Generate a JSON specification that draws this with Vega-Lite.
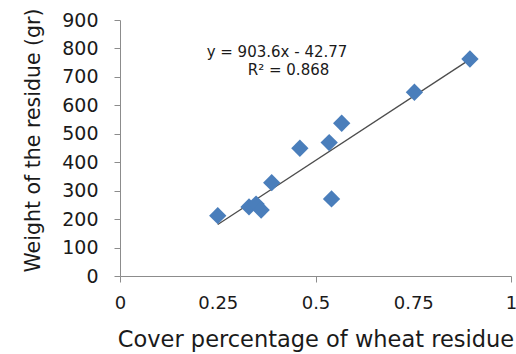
{
  "$schema": "https://vega.github.io/schema/vega-lite/v6.json",
  "width": 391,
  "height": 256,
  "autosize": "none",
  "padding": {"left": 120, "top": 20, "right": 5, "bottom": 78},
  "background": "white",
  "config": {"view": {"stroke": null}, "font": "DejaVu Sans"},
  "datasets": {
    "pts": [
      {"cover": 0.250, "weight": 212},
      {"cover": 0.330, "weight": 243},
      {"cover": 0.348, "weight": 253},
      {"cover": 0.361, "weight": 232},
      {"cover": 0.388, "weight": 328},
      {"cover": 0.460, "weight": 449},
      {"cover": 0.535, "weight": 469},
      {"cover": 0.567, "weight": 537},
      {"cover": 0.541, "weight": 271},
      {"cover": 0.753, "weight": 646},
      {"cover": 0.895, "weight": 763}
    ],
    "notes": [
      {"cover": 0.4015, "weight": 788, "label": "y = 903.6x - 42.77"},
      {"cover": 0.431, "weight": 725, "label": "R² = 0.868"}
    ]
  },
  "resolve": {"axis": {"x": "independent", "y": "independent"}},
  "layer": [
    {
      "data": {"name": "pts"},
      "transform": [{"regression": "weight", "on": "cover"}],
      "mark": {"type": "line", "color": "#4d4d4d", "strokeWidth": 1.3},
      "encoding": {
        "x": {"field": "cover", "type": "quantitative", "scale": {"domain": [0, 1], "nice": false},
          "axis": {"orient": "bottom", "values": [0, 0.5, 1], "labels": false, "domain": false, "ticks": true, "tickSize": 6, "tickColor": "#8c8c8c", "grid": false, "title": null}},
        "y": {"field": "weight", "type": "quantitative", "scale": {"domain": [0, 900], "nice": false}, "axis": null}
      }
    },
    {
      "data": {"name": "pts"},
      "mark": {"type": "point", "shape": "diamond", "filled": true, "size": 300, "color": "#4a7ebb", "opacity": 1},
      "encoding": {
        "x": {"field": "cover", "type": "quantitative", "scale": {"domain": [0, 1], "nice": false},
          "axis": {"orient": "bottom", "values": [0, 0.25, 0.5, 0.75, 1], "format": ".2~f", "ticks": false, "tickSize": 0, "grid": false, "domainColor": "#8c8c8c",
            "labelFont": "DejaVu Sans", "labelFontSize": 18, "labelColor": "#1a1a1a", "labelPadding": 18.5, "labelFlush": false, "labelOverlap": false,
            "title": "Cover percentage of wheat residue", "titleFont": "DejaVu Sans", "titleFontSize": 22.5, "titleFontWeight": "normal", "titleColor": "#1a1a1a", "titlePadding": 16}},
        "y": {"field": "weight", "type": "quantitative", "scale": {"domain": [0, 900], "nice": false},
          "axis": {"orient": "left", "values": [0, 100, 200, 300, 400, 500, 600, 700, 800, 900], "grid": false, "domainColor": "#8c8c8c", "tickColor": "#8c8c8c", "tickSize": 6,
            "labelFont": "DejaVu Sans", "labelFontSize": 19, "labelColor": "#1a1a1a", "labelPadding": 16, "labelFlush": false, "labelOverlap": false,
            "title": "Weight of the residue (gr)", "titleFont": "DejaVu Sans", "titleFontSize": 20.5, "titleFontWeight": "normal", "titleColor": "#1a1a1a", "titlePadding": 18, "titleY": 120}}
      }
    },
    {
      "data": {"name": "notes"},
      "mark": {"type": "text", "font": "DejaVu Sans", "fontSize": 15, "color": "#1a1a1a", "align": "center", "baseline": "middle"},
      "encoding": {
        "x": {"field": "cover", "type": "quantitative", "axis": null},
        "y": {"field": "weight", "type": "quantitative", "axis": null},
        "text": {"field": "label"}
      }
    }
  ]
}
